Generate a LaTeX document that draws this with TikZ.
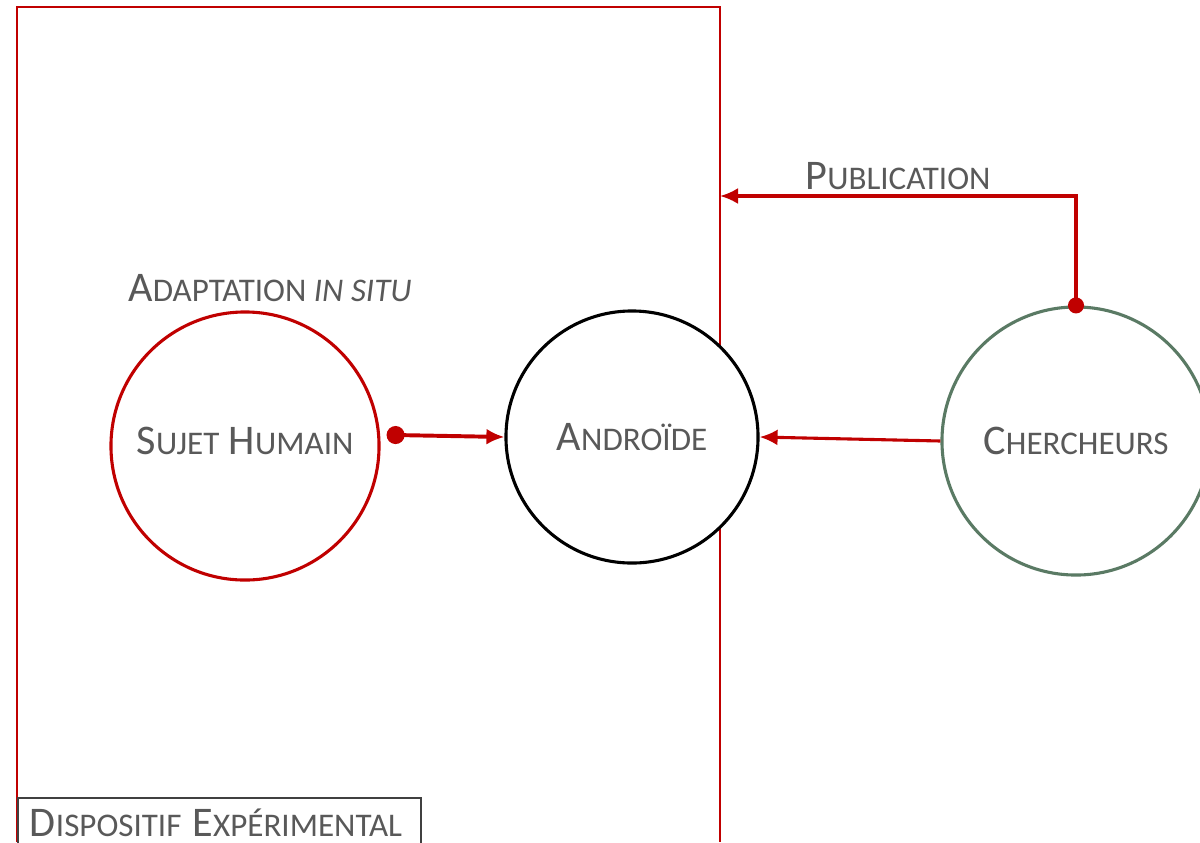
\documentclass[tikz,border=0pt]{standalone}
\usepackage{fontspec}
\setmainfont{Carlito}
\usetikzlibrary{positioning,arrows.meta}
\usepackage{xcolor}
\definecolor{ExpRed}{RGB}{192,0,0}
\definecolor{ResGreen}{RGB}{90,122,100}
\definecolor{TxtGray}{RGB}{89,89,89}
\definecolor{BoxGray}{RGB}{64,64,64}
\newcommand{\smc}[2]{{\fontsize{30}{32}\selectfont #1}{\fontsize{23.5}{25}\selectfont #2}}

\begin{document}
\begin{tikzpicture}[
x=0.025cm,y=-0.025cm,
agent/.style={
    circle,
    line width=2.2pt,
    fill=white,
    inner sep=0pt,
    minimum size=6.7cm,
    text=TxtGray,
    font=\fontsize{30}{32}\selectfont
},
label/.style={
    text=TxtGray,
    inner sep=0pt,
    font=\fontsize{23.5}{25}\selectfont
},
arrow/.style={-{Latex[length=4.5mm,width=4mm]},line width=2.2pt,draw=ExpRed}
]
\useasboundingbox (0,0) rectangle (1200,842);

% frame of the set-up
\draw[ExpRed,line width=1.6pt] (17,842) -- (17,7) -- (720,7) -- (720,842);

\node[agent,draw=ExpRed] (sujet) at (245,446) {\raisebox{0.28cm}{\smc{S}{UJET} \smc{H}{UMAIN}}};
\node[agent,draw=black,minimum size=6.3cm] (andro) at (632,437) {\smc{A}{NDROÏDE}};
\node[agent,draw=ResGreen] (cherch) at (1076,441) {\smc{C}{HERCHEURS}};

\node[label] (adapt) at (270,288) {\smc{A}{DAPTATION} {\itshape IN SITU}};
\node[label] (publi) at (898,176) {\smc{P}{UBLICATION}};
\coordinate (frame) at (720,196);

\node[label,draw=BoxGray,line width=1.4pt,fill=white,anchor=north west,
      inner xsep=0.3cm,inner ysep=0.2cm,text height=0.75cm,text depth=0.6cm,
      text width=9.475cm,align=left] (dispo) at (17,797)
      {\smc{D}{ISPOSITIF} \smc{E}{XPÉRIMENTAL}};

\draw[arrow,line width=2.8pt,{Circle[length=4.5mm]}-{Latex[length=4.5mm,width=4mm]},shorten <=-2mm] ([shift={(14,-11)}]sujet.east) -- (andro.west);
\draw[arrow] (cherch.west) -- (andro.east);
\draw[arrow,{Circle[length=4mm]}-{Latex[length=4.5mm,width=4mm]},shorten <=-2mm] (cherch.north) |- (frame);

\end{tikzpicture}
\end{document}
